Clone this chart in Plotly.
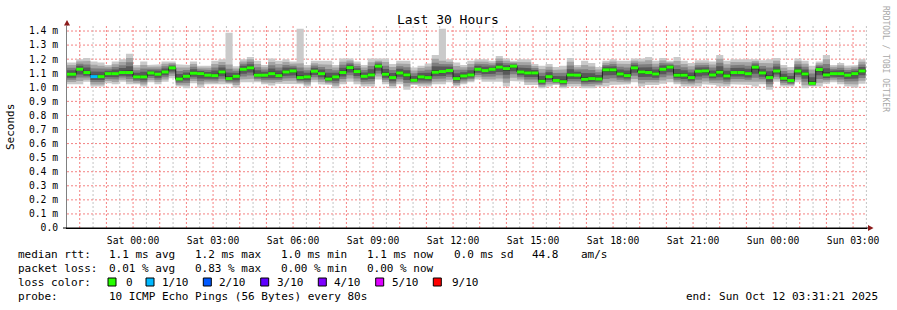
import plotly.graph_objects as go
import pandas as pd

# ---------------- data (milliseconds) ----------------
first_bin_start = "2025-10-10 21:20:00"
bin_minutes = 16
range_start = "2025-10-10 21:31:21"
range_end = "2025-10-12 03:31:21"

median_ms = [
    1.093, 1.093, 1.128, 1.105, 1.076, 1.076, 1.097, 1.097, 1.105, 1.105,
    1.074, 1.074, 1.102, 1.093, 1.109, 1.138, 1.059, 1.078, 1.100, 1.097,
    1.086, 1.083, 1.109, 1.062, 1.078, 1.128, 1.138, 1.086, 1.086, 1.097,
    1.083, 1.109, 1.116, 1.069, 1.074, 1.114, 1.097, 1.059, 1.074, 1.105,
    1.140, 1.112, 1.078, 1.088, 1.150, 1.093, 1.069, 1.102, 1.088, 1.050,
    1.074, 1.069, 1.107, 1.112, 1.119, 1.062, 1.081, 1.088, 1.128, 1.119,
    1.128, 1.143, 1.133, 1.150, 1.109, 1.102, 1.102, 1.043, 1.076, 1.048,
    1.040, 1.088, 1.086, 1.057, 1.062, 1.059, 1.124, 1.124, 1.095, 1.083,
    1.138, 1.109, 1.105, 1.095, 1.128, 1.143, 1.086, 1.086, 1.069, 1.114,
    1.116, 1.088, 1.107, 1.081, 1.105, 1.105, 1.097, 1.143, 1.102, 1.069,
    1.116, 1.064, 1.048, 1.116, 1.095, 1.028, 1.126, 1.088, 1.097, 1.097,
    1.086, 1.097, 1.116,
]

max_ms = [
    1.176, 1.176, 1.200, 1.209, 1.183, 1.176, 1.159, 1.183, 1.200, 1.238,
    1.159, 1.183, 1.159, 1.164, 1.183, 1.183, 1.164, 1.159, 1.183, 1.154,
    1.154, 1.188, 1.200, 1.387, 1.150, 1.200, 1.216, 1.188, 1.159, 1.204,
    1.188, 1.200, 1.183, 1.416, 1.159, 1.188, 1.183, 1.188, 1.159, 1.204,
    1.204, 1.183, 1.159, 1.204, 1.200, 1.204, 1.166, 1.188, 1.188, 1.140,
    1.154, 1.169, 1.230, 1.416, 1.200, 1.176, 1.159, 1.188, 1.200, 1.200,
    1.188, 1.223, 1.204, 1.188, 1.200, 1.200, 1.166, 1.154, 1.166, 1.145,
    1.154, 1.209, 1.159, 1.188, 1.173, 1.145, 1.188, 1.200, 1.188, 1.188,
    1.204, 1.204, 1.216, 1.188, 1.209, 1.188, 1.216, 1.188, 1.173, 1.192,
    1.192, 1.183, 1.230, 1.188, 1.200, 1.204, 1.200, 1.200, 1.192, 1.200,
    1.209, 1.159, 1.145, 1.204, 1.188, 1.154, 1.183, 1.230, 1.159, 1.173,
    1.154, 1.159, 1.200,
]

min_ms = [
    1.021, 1.021, 1.021, 1.040, 1.005, 1.005, 1.029, 1.021, 1.040, 1.021,
    1.021, 1.005, 1.036, 1.021, 1.040, 1.064, 1.005, 0.993, 1.029, 0.998,
    1.021, 1.017, 1.021, 1.021, 0.998, 1.036, 1.040, 1.036, 1.021, 1.012,
    1.026, 1.026, 1.026, 1.021, 1.005, 1.036, 1.021, 1.017, 0.993, 1.021,
    1.040, 1.021, 1.005, 1.005, 1.055, 1.021, 0.993, 1.021, 0.983, 1.017,
    1.005, 1.005, 1.021, 1.021, 1.036, 1.005, 1.021, 1.036, 1.055, 1.040,
    1.036, 1.040, 1.005, 1.045, 1.040, 1.017, 1.017, 0.993, 1.005, 1.017,
    0.993, 1.005, 1.005, 0.993, 0.993, 1.005, 1.005, 1.017, 1.021, 1.021,
    1.036, 1.005, 1.017, 1.017, 1.026, 1.036, 1.021, 1.005, 1.005, 1.005,
    1.021, 1.017, 1.005, 1.005, 1.021, 1.021, 1.017, 1.005, 1.021, 0.983,
    1.040, 1.005, 1.005, 1.036, 0.993, 1.005, 1.005, 1.026, 1.036, 1.021,
    1.005, 0.998, 1.026,
]

# second-highest ping differs from the max only in the three spike bins
spike_second_ms = {23: 1.19, 33: 1.20, 53: 1.21}

loss_tenths = [
    0, 0, 0, 0, 1, 0, 0, 0, 0, 0, 0, 0, 0, 0, 0, 0, 0, 0, 0, 0,
    0, 0, 0, 0, 0, 0, 0, 0, 0, 0, 0, 0, 0, 0, 0, 0, 0, 0, 0, 0,
    0, 0, 0, 0, 0, 0, 0, 0, 0, 0, 0, 0, 0, 0, 0, 0, 0, 0, 0, 0,
    0, 0, 0, 0, 0, 0, 0, 0, 0, 0, 0, 0, 0, 0, 0, 0, 0, 0, 0, 0,
    0, 0, 0, 0, 0, 0, 0, 0, 0, 0, 0, 0, 0, 0, 0, 0, 0, 0, 0, 0,
    0, 0, 0, 0, 0, 0, 0, 0, 0, 0, 0, 0, 0,
]

y_ticks = [0.0, 0.1, 0.2, 0.3, 0.4, 0.5, 0.6, 0.7, 0.8, 0.9, 1.0, 1.1, 1.2, 1.3, 1.4]
y_ticktext = ["0.0"] + [f"{v:.1f} m" for v in y_ticks[1:]]

loss_levels = ["0", "1/10", "2/10", "3/10", "4/10", "5/10", "9/10"]
loss_colors = {0: "#26ff00", 1: "#00b8ff", 2: "#0059ff", 3: "#5e00ff",
               4: "#7e00ff", 5: "#dd00ff", 9: "#ff0000"}

stats_rows = [
    ("median rtt:", ["1.1 ms avg", "1.2 ms max", "1.0 ms min", "1.1 ms now", "0.0 ms sd", "44.8", "am/s"]),
    ("packet loss:", ["0.01 % avg", "0.83 % max", "0.00 % min", "0.00 % now"]),
]
probe_text = "10 ICMP Echo Pings (56 Bytes) every 80s"
end_text = "end: Sun Oct 12 03:31:21 2025"
title_text = "Last 30 Hours"

# ---------------- style ----------------
MONO = "DejaVu Sans Mono"
SMOKE = ["#cacaca", "#a4a4a4", "#7e7e7e", "#585858", "#323232"]
SMOKE_FRAC = [1.0, 0.78, 0.55, 0.34, 0.12]
L, T, PW, PH = 67, 26, 800, 202
MGRID = "#f48282"
GRID = "#c4c4c4"
DOT = "2px,2px"


def px(xp):
    return (xp - L) / PW


def py(yp):
    return (T + PH - yp) / PH


n = len(median_ms)
t0 = pd.Timestamp(first_bin_start)
starts = [t0 + pd.Timedelta(minutes=bin_minutes * i) for i in range(n)]
ends = [s + pd.Timedelta(minutes=bin_minutes) for s in starts]
second_ms = [spike_second_ms.get(i, max_ms[i]) for i in range(n)]

rs, re_ = pd.Timestamp(range_start), pd.Timestamp(range_end)
hours = list(pd.date_range(rs.ceil("h"), re_.floor("h"), freq="h"))
half_hours = [t for t in pd.date_range(rs.ceil("30min"), re_, freq="30min") if t.minute == 30]
label_hours = [h for h in hours if h.hour % 3 == 0]

fig = go.Figure()

# ---- grid drawn as axis-referenced dotted lines (beneath the data) ----
shapes = []
for t in half_hours:
    shapes.append(dict(type="line", xref="x", yref="paper", x0=t, x1=t, y0=0, y1=1,
                       layer="below", line=dict(color=GRID, width=1, dash=DOT)))
for t in hours:
    shapes.append(dict(type="line", xref="x", yref="paper", x0=t, x1=t, y0=0, y1=1,
                       layer="below", line=dict(color=MGRID, width=1, dash=DOT)))
for v in y_ticks[1:]:
    shapes.append(dict(type="line", xref="paper", yref="y", x0=0, x1=1, y0=v, y1=v,
                       layer="below", line=dict(color=MGRID, width=1, dash=DOT)))

# smoke layers
for k, (col, f) in enumerate(zip(SMOKE, SMOKE_FRAC)):
    tops, bots = [], []
    for i in range(n):
        m = median_ms[i]
        hi = max_ms[i] if k == 0 else m + f * (second_ms[i] - m)
        lo = m - f * (m - min_ms[i])
        tops.append(hi)
        bots.append(lo)
    xs, ys = [], []
    for i in range(n):
        xs += [starts[i], ends[i]]
        ys += [tops[i], tops[i]]
    for i in reversed(range(n)):
        xs += [ends[i], starts[i]]
        ys += [bots[i], bots[i]]
    fig.add_trace(go.Scatter(x=xs, y=ys, mode="lines", fill="toself",
                             fillcolor=col, line=dict(width=0),
                             hoverinfo="skip"))

# dark median step line
fig.add_trace(go.Scatter(x=starts + [ends[-1]], y=median_ms + [median_ms[-1]],
                         mode="lines", line=dict(color="#202020", width=1, shape="hv"),
                         hoverinfo="skip"))

# loss-coloured median segments
for lv, col in loss_colors.items():
    xs, ys = [], []
    for i in range(n):
        if loss_tenths[i] == lv:
            xs += [starts[i], ends[i], None]
            ys += [median_ms[i], median_ms[i], None]
    if xs:
        fig.add_trace(go.Scatter(x=xs, y=ys, mode="lines",
                                 line=dict(color=col, width=3), hoverinfo="skip"))

fig.update_layout(
    width=897, height=310,
    margin=dict(l=L, r=897 - L - PW, t=T, b=310 - T - PH, pad=0),
    paper_bgcolor="white", plot_bgcolor="white",
    showlegend=False,
    font=dict(family=MONO, size=10, color="black"),
    xaxis=dict(
        type="date", range=[rs, re_],
        tickmode="array", tickvals=label_hours,
        ticktext=[h.strftime("%a %H:%M") for h in label_hours],
        showgrid=False,
        showline=True, linecolor="black", linewidth=1,
        ticks="", tickfont=dict(family=MONO, size=9.7, color="black"),
        ticklabelstandoff=3, zeroline=False, fixedrange=True,
    ),
    yaxis=dict(
        range=[0, 1.4357],
        tickmode="array", tickvals=y_ticks, ticktext=y_ticktext,
        showgrid=False,
        showline=True, linecolor="#808080", linewidth=1,
        ticks="", tickfont=dict(family=MONO, size=9.7, color="black"),
        ticklabelstandoff=6, zeroline=False, fixedrange=True,
    ),
)


def note(xp, yp, text, size=11, anchor="left", angle=0, color="black"):
    return dict(x=px(xp), y=py(yp), xref="paper", yref="paper", text=text,
                showarrow=False, xanchor=anchor, yanchor="middle", textangle=angle,
                font=dict(family=MONO, size=size, color=color))


ann = []
ann.append(note(448, 20, title_text, size=13, anchor="center"))
ann.append(note(10, 127, "Seconds", size=11, anchor="center", angle=-90))
ann.append(note(886, 59, "RRDTOOL / TOBI OETIKER", size=8, anchor="center",
                angle=90, color="#a8a8a8"))

row_y = [254.3, 268.3, 282.3, 296.3]
col_x = [107.3, 193.3, 279.3, 365.3, 451.7, 530, 579.3]
for r, (label, vals) in enumerate(stats_rows):
    ann.append(note(16, row_y[r], label))
    for c, v in enumerate(vals):
        ann.append(note(col_x[c], row_y[r], v))

ann.append(note(16, row_y[2], "loss color:"))
sq_x = [108, 146, 203.3, 260.7, 318.3, 375.7, 433.3]
lbl_x = [124.3, 160, 217.3, 275, 332.3, 390, 450]
for lvl, sx, lx in zip(loss_levels, sq_x, lbl_x):
    key = 0 if lvl == "0" else int(lvl.split("/")[0])
    shapes.append(dict(type="rect", xref="paper", yref="paper",
                       x0=px(sx), x1=px(sx + 8), y0=py(286), y1=py(278),
                       fillcolor=loss_colors[key], line=dict(color="black", width=1)))
    ann.append(note(lx, row_y[2], lvl))

ann.append(note(16, row_y[3], "probe:"))
ann.append(note(107.3, row_y[3], probe_text))
ann.append(note(880, row_y[3], end_text, anchor="right"))

ARROW = "#8b1a1a"
shapes.append(dict(type="line", xref="paper", yref="paper",
                   x0=px(67), x1=px(67), y0=py(26), y1=py(22),
                   line=dict(color="#808080", width=1)))
shapes.append(dict(type="path", xref="paper", yref="paper",
                   path=f"M {px(64)} {py(25.5)} L {px(70)} {py(25.5)} L {px(67)} {py(20)} Z",
                   fillcolor=ARROW, line=dict(color=ARROW, width=0)))
shapes.append(dict(type="line", xref="paper", yref="paper",
                   x0=px(63), x1=px(869), y0=py(228), y1=py(228),
                   line=dict(color="black", width=1)))
shapes.append(dict(type="path", xref="paper", yref="paper",
                   path=f"M {px(868)} {py(225)} L {px(868)} {py(231)} L {px(873.5)} {py(228)} Z",
                   fillcolor=ARROW, line=dict(color=ARROW, width=0)))

fig.update_layout(annotations=ann, shapes=shapes)
fig.write_html("out.html")
